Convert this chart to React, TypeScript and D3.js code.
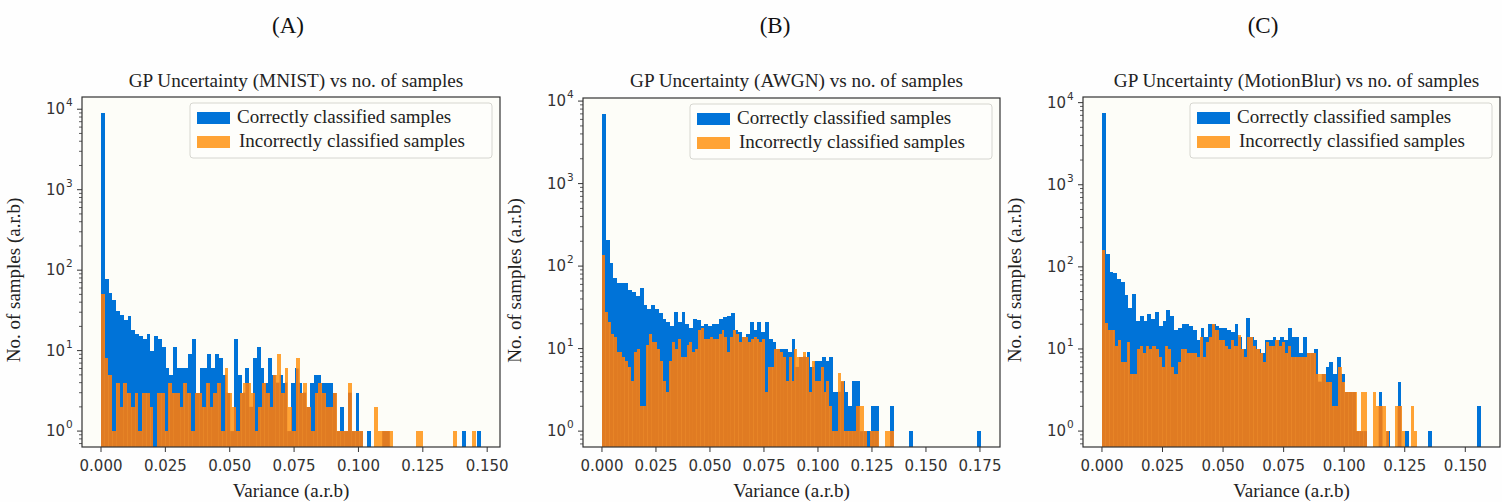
import React from 'react';
import * as d3 from 'd3';

// every histogram uses 100 equal bins from 0 to the max variance of that series
const BINS = 100;

// (A) MNIST
const mnistCorrect = [
  9000, 78, 52, 42, 31, 28, 24, 27, 18, 16,
  15, 14, 16, 10, 15, 14, 11, 6, 5, 11,
  6, 6, 6, 9, 14, 3, 6, 6, 9, 6,
  9, 8, 5, 3, 1, 14, 5, 3, 6, 2,
  8, 11, 6, 4, 8, 5, 4, 5, 4, 1,
  4, 6, 4, 3, 2, 4, 5, 5, 4, 4,
  4, 3, 1, 2, 1, 3, 1, 3, 1, 0,
  1, 0, 0, 0, 1, 1, 0, 0, 0, 0,
  0, 0, 0, 0, 0, 0, 0, 0, 0, 0,
  0, 0, 0, 0, 0, 1, 0, 0, 0, 1,
];
const mnistIncorrect = [
  50, 8, 5, 1, 4, 2, 4, 3, 2, 3,
  1, 3, 3, 2, 0, 3, 3, 1, 4, 3,
  3, 2, 4, 3, 1, 3, 3, 2, 4, 2,
  3, 4, 1, 6, 3, 2, 1, 3, 4, 4,
  3, 1, 2, 4, 3, 2, 5, 9, 3, 6,
  2, 1, 8, 3, 4, 2, 1, 3, 4, 3,
  2, 2, 3, 1, 1, 1, 4, 1, 1, 1,
  0, 0, 0, 2, 1, 1, 1, 1, 0, 0,
  0, 0, 0, 0, 1, 1, 0, 0, 0, 0,
  0, 0, 0, 0, 1, 0, 0, 0, 0, 1,
];
const mnistCorrectMax = 0.1476;
const mnistIncorrectMax = 0.1455;

// (B) AWGN
const awgnCorrect = [
  7000, 205, 108, 71, 62, 62, 62, 51, 49, 43,
  54, 34, 30, 34, 30, 27, 23, 21, 19, 28,
  21, 28, 20, 18, 23, 22, 19, 20, 19, 20,
  20, 23, 24, 25, 27, 17, 16, 14, 15, 21,
  17, 21, 16, 21, 13, 12, 10, 10, 10, 9,
  13, 6, 8, 8, 9, 6, 7, 7, 8, 7,
  8, 3, 3, 4, 3, 2, 4, 4, 1, 1,
  1, 2, 2, 0, 0, 0, 2, 0, 0, 0,
  0, 1, 0, 0, 0, 0, 0, 0, 0, 0,
  0, 0, 0, 0, 0, 0, 0, 0, 0, 1,
];
const awgnIncorrect = [
  135, 28, 21, 15, 14, 9, 9, 8, 7, 6,
  4, 9, 10, 2, 2, 11, 15, 12, 12, 10,
  7, 4, 3, 7, 12, 10, 13, 8, 8, 11,
  12, 9, 10, 17, 18, 13, 13, 14, 13, 13,
  15, 17, 14, 9, 14, 17, 15, 12, 14, 14,
  12, 13, 14, 13, 12, 13, 3, 6, 6, 10,
  10, 9, 8, 4, 8, 4, 10, 8, 8, 9,
  8, 3, 7, 4, 4, 6, 3, 4, 2, 1,
  1, 5, 4, 1, 1, 1, 1, 2, 2, 2,
  1, 0, 1, 1, 1, 0, 0, 1, 1, 1,
];
const awgnCorrectMax = 0.1755;
const awgnIncorrectMax = 0.135;

// (C) MotionBlur
const blurCorrect = [
  7500, 144, 86, 84, 71, 65, 45, 32, 47, 22,
  25, 22, 27, 23, 28, 19, 22, 30, 25, 17,
  18, 20, 20, 19, 17, 13, 18, 14, 20, 20,
  19, 18, 18, 17, 16, 20, 14, 10, 24, 14,
  13, 10, 9, 13, 13, 14, 13, 14, 13, 18,
  14, 14, 9, 14, 9, 9, 10, 4, 5, 6,
  7, 5, 8, 5, 3, 3, 3, 1, 1, 1,
  0, 0, 0, 3, 0, 1, 0, 0, 4, 0,
  1, 0, 0, 0, 0, 0, 1, 0, 0, 0,
  0, 0, 0, 0, 0, 0, 0, 0, 0, 2,
];
const blurIncorrect = [
  160, 21, 17, 17, 11, 13, 7, 7, 12, 5,
  5, 10, 11, 9, 11, 10, 11, 10, 8, 6,
  11, 10, 6, 5, 7, 10, 10, 9, 9, 9,
  8, 14, 8, 12, 14, 20, 17, 13, 13, 11,
  10, 13, 11, 15, 10, 8, 14, 14, 11, 10,
  9, 7, 12, 11, 11, 13, 11, 12, 9, 11,
  8, 8, 8, 8, 8, 9, 9, 9, 5, 5,
  5, 4, 4, 2, 2, 6, 4, 3, 3, 3,
  3, 1, 3, 3, 0, 0, 3, 2, 2, 2,
  1, 0, 0, 2, 2, 1, 0, 0, 2, 1,
];
const blurCorrectMax = 0.1565;
const blurIncorrectMax = 0.1302;

const panelLetters = ['(A)', '(B)', '(C)'];
const panelTitles = [
  'GP Uncertainty (MNIST) vs no. of samples',
  'GP Uncertainty (AWGN) vs no. of samples',
  'GP Uncertainty (MotionBlur) vs no. of samples',
];
const xTicksA = [0, 0.025, 0.05, 0.075, 0.1, 0.125, 0.15];
const xTicksB = [0, 0.025, 0.05, 0.075, 0.1, 0.125, 0.15, 0.175];
const xTicksC = [0, 0.025, 0.05, 0.075, 0.1, 0.125, 0.15];
const yExponents = [0, 1, 2, 3, 4];
const legendLabels = ['Correctly classified samples', 'Incorrectly classified samples'];

const BLUE = '#0073d8';
const ORANGE = '#ffa335';
const ORANGE_DARK = '#e07b22';
const SERIF = '"Liberation Serif", "Times New Roman", serif';
const SANS = '"DejaVu Sans", sans-serif';

const panels = [
  { key: 'A', correct: mnistCorrect, incorrect: mnistIncorrect, cMax: mnistCorrectMax, iMax: mnistIncorrectMax, ticks: xTicksA },
  { key: 'B', correct: awgnCorrect, incorrect: awgnIncorrect, cMax: awgnCorrectMax, iMax: awgnIncorrectMax, ticks: xTicksB },
  { key: 'C', correct: blurCorrect, incorrect: blurIncorrect, cMax: blurCorrectMax, iMax: blurIncorrectMax, ticks: xTicksC },
];

// where each axes box sits on the page
const layout = [
  { left: 82, right: 500, top: 97, letterX: 288 },
  { left: 583, right: 1000, top: 98, letterX: 775 },
  { left: 1083, right: 1500, top: 97, letterX: 1263 },
];
const BOTTOM = 447;

const toBars = (counts: number[], vmax: number) =>
  counts
    .map((c, i) => ({ x0: (vmax * i) / BINS, x1: (vmax * (i + 1)) / BINS, c }))
    .filter((d) => d.c > 0);

function Panel({ idx }: { idx: number }) {
  const p = panels[idx];
  const { left, right, top, letterX } = layout[idx];
  const xMax = Math.max(p.cMax, p.iMax);
  const x = d3.scaleLinear().domain([-0.05 * xMax, 1.05 * xMax]).range([left, right]);
  const L = Math.log10(d3.max(p.correct) as number);
  const y = d3.scaleLog().domain([10 ** (-0.05 * L), 10 ** (1.05 * L)]).range([BOTTOM, top]);

  const blue = toBars(p.correct, p.cMax);
  const orange = toBars(p.incorrect, p.iMax);
  const clipId = `blue-clip-${p.key}`;
  const axClip = `ax-clip-${p.key}`;

  const rect = (d: any, fill?: string) => (
    <rect
      key={d.x0}
      x={x(d.x0)}
      width={x(d.x1) - x(d.x0)}
      y={y(d.c)}
      height={BOTTOM - y(d.c)}
      fill={fill}
    />
  );

  // log minor ticks 2..9 inside the domain
  const [yLo, yHi] = y.domain();
  const minor: number[] = [];
  for (let e = -1; e <= 5; e++) {
    for (let m = 2; m <= 9; m++) {
      const v = m * 10 ** e;
      if (v > yLo && v < yHi) minor.push(v);
    }
  }

  const fmt = d3.format('.3f');
  const cx = (left + right) / 2;
  const cy = (top + BOTTOM) / 2;
  const legRight = right - 8;
  const legLeft = legRight - 302;
  const legTop = top + 6;

  return (
    <g>
      <text x={letterX} y={33} textAnchor="middle" fontFamily={SERIF} fontSize={23} fill="#111">
        {panelLetters[idx]}
      </text>
      <text x={cx + 5} y={87} textAnchor="middle" fontFamily={SERIF} fontSize={19.2} fill="#222">
        {panelTitles[idx]}
      </text>
      <rect x={left} y={top} width={right - left} height={BOTTOM - top} fill="#fdfdf8" />
      <defs>
        <clipPath id={clipId}>{blue.map((d) => rect(d))}</clipPath>
        <clipPath id={axClip}>
          <rect x={left} y={top} width={right - left} height={BOTTOM - top} />
        </clipPath>
      </defs>
      <g clipPath={`url(#${axClip})`} shapeRendering="crispEdges">
        <g fill={BLUE}>{blue.map((d) => rect(d))}</g>
        <g fill={ORANGE}>{orange.map((d) => rect(d))}</g>
        <g fill={ORANGE_DARK} clipPath={`url(#${clipId})`}>{orange.map((d) => rect(d))}</g>
      </g>
      <rect x={left} y={top} width={right - left} height={BOTTOM - top} fill="none" stroke="#333" strokeWidth={1.2} />

      {/* x axis */}
      {p.ticks.map((t) => (
        <g key={t} transform={`translate(${x(t)},${BOTTOM})`}>
          <line y1={0} y2={5} stroke="#333" />
          <text y={24} textAnchor="middle" fontFamily={SANS} fontSize={15} fill="#333">
            {fmt(t)}
          </text>
        </g>
      ))}
      <text x={cx} y={497} textAnchor="middle" fontFamily={SERIF} fontSize={19} fill="#222">
        Variance (a.r.b)
      </text>

      {/* y axis */}
      {yExponents.map((e) => (
        <g key={e} transform={`translate(${left},${y(10 ** e)})`}>
          <line x1={0} x2={-5} stroke="#333" />
          <text x={-17} y={5} textAnchor="end" fontFamily={SANS} fontSize={15} fill="#333">
            10
          </text>
          <text x={-16} y={-3} textAnchor="start" fontFamily={SANS} fontSize={10.5} fill="#333">
            {e}
          </text>
        </g>
      ))}
      {minor.map((v) => (
        <line key={v} x1={left} x2={left - 3} y1={y(v)} y2={y(v)} stroke="#333" strokeWidth={0.8} />
      ))}
      <text
        transform={`translate(${left - 62},${cy + 8}) rotate(-90)`}
        textAnchor="middle"
        fontFamily={SERIF}
        fontSize={19}
        fill="#222"
      >
        No. of samples (a.r.b)
      </text>

      {/* legend */}
      <rect x={legLeft} y={legTop} width={302} height={55} rx={3} fill="#fefefb" stroke="#d6d6d0" />
      {legendLabels.map((lab, i) => (
        <g key={lab} transform={`translate(${legLeft + 7},${legTop + 9 + i * 24})`}>
          <rect width={33} height={12} fill={i === 0 ? BLUE : ORANGE} />
          <text x={40 + i * 2} y={11} fontFamily={SERIF} fontSize={19} fill="#222">
            {lab}
          </text>
        </g>
      ))}
    </g>
  );
}

export default function App() {
  return (
    <svg
      width={1502}
      height={502}
      style={{ position: 'absolute', left: 0, top: 0, background: '#fefefe' }}
    >
      {panels.map((_, i) => (
        <Panel key={i} idx={i} />
      ))}
    </svg>
  );
}
